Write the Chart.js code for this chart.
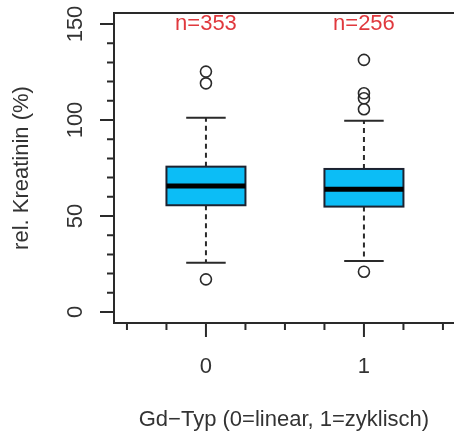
<!DOCTYPE html>
<html>
<head>
<meta charset="utf-8">
<script src="https://cdn.jsdelivr.net/npm/chart.js@4/dist/chart.umd.min.js"></script>
<style>
  html, body { margin: 0; padding: 0; background: #ffffff; }
  #wrap { width: 454px; height: 434px; position: relative; }
</style>
</head>
<body>
<div id="wrap"><canvas id="chart"></canvas></div>
<script>
  // Box statistics per group
  const groupLabels = ['0', '1'];
  const groupPos = [0, 1];
  const countLabels = ['n=353', 'n=256'];
  const whiskerLow = [25.7, 26.6];
  const q1 = [55.6, 54.9];
  const median = [65.6, 63.9];
  const q3 = [75.7, 74.5];
  const whiskerHigh = [101.2, 99.6];
  const outliers0 = [125.2, 119.1, 17.0];
  const outliers1 = [131.3, 113.9, 111.3, 105.6, 21.0];

  // Axis ticks
  const yMajorTicks = [0, 50, 100, 150];
  const yMinorTicks = [10, 20, 30, 40, 60, 70, 80, 90, 110, 120, 130, 140];
  const xMinorTicks = [-0.5, -0.25, 0.25, 0.5, 0.75, 1.25, 1.5];

  const yTitle = 'rel. Kreatinin (%)';
  const xTitle = 'Gd\u2212Typ (0=linear, 1=zyklisch)';

  const colors = {
    box: '#0cbdf6',
    boxLine: '#1c2230',
    line: '#2a2a2a',
    text: '#333333',
    count: '#e0393e'
  };
  const font = '22px "Liberation Sans", Arial, sans-serif';

  const boxHalf = 0.25;
  const capHalf = 0.125;

  const outlierPoints = []
    .concat(outliers0.map((v) => ({ x: groupPos[0], y: v })))
    .concat(outliers1.map((v) => ({ x: groupPos[1], y: v })));

  const boxplotPlugin = {
    id: 'boxplot',
    beforeDatasetsDraw(chart) {
      const { ctx, chartArea: area, scales: { x, y } } = chart;
      ctx.save();

      groupPos.forEach((g, i) => {
        const cx = x.getPixelForValue(g);
        const left = x.getPixelForValue(g - boxHalf);
        const right = x.getPixelForValue(g + boxHalf);
        const capL = x.getPixelForValue(g - capHalf);
        const capR = x.getPixelForValue(g + capHalf);
        const yq1 = y.getPixelForValue(q1[i]);
        const yq3 = y.getPixelForValue(q3[i]);
        const ymed = y.getPixelForValue(median[i]);
        const ylo = y.getPixelForValue(whiskerLow[i]);
        const yhi = y.getPixelForValue(whiskerHigh[i]);

        // dashed whiskers
        ctx.strokeStyle = colors.line;
        ctx.lineWidth = 2;
        ctx.setLineDash([5, 4]);
        ctx.beginPath();
        ctx.moveTo(cx, yq3);
        ctx.lineTo(cx, yhi);
        ctx.moveTo(cx, yq1);
        ctx.lineTo(cx, ylo);
        ctx.stroke();
        ctx.setLineDash([]);

        // caps
        ctx.beginPath();
        ctx.moveTo(capL, yhi);
        ctx.lineTo(capR, yhi);
        ctx.moveTo(capL, ylo);
        ctx.lineTo(capR, ylo);
        ctx.stroke();

        // box
        ctx.fillStyle = colors.box;
        ctx.fillRect(left, yq3, right - left, yq1 - yq3);
        ctx.strokeStyle = colors.boxLine;
        ctx.lineWidth = 2;
        ctx.strokeRect(left, yq3, right - left, yq1 - yq3);

        // median
        ctx.strokeStyle = '#000000';
        ctx.lineWidth = 5;
        ctx.beginPath();
        ctx.moveTo(left, ymed);
        ctx.lineTo(right, ymed);
        ctx.stroke();

        // count label
        ctx.fillStyle = colors.count;
        ctx.font = font;
        ctx.textAlign = 'center';
        ctx.textBaseline = 'alphabetic';
        ctx.fillText(countLabels[i], cx, area.top + 17);
      });

      // frame (right side runs off the picture)
      ctx.strokeStyle = colors.line;
      ctx.lineWidth = 2;
      ctx.beginPath();
      ctx.moveTo(chart.width + 2, area.top);
      ctx.lineTo(area.left, area.top);
      ctx.lineTo(area.left, area.bottom);
      ctx.lineTo(chart.width + 2, area.bottom);
      ctx.stroke();

      // y ticks
      ctx.lineWidth = 2;
      ctx.beginPath();
      yMajorTicks.forEach((v) => {
        const py = y.getPixelForValue(v);
        ctx.moveTo(area.left - 14, py);
        ctx.lineTo(area.left, py);
      });
      yMinorTicks.forEach((v) => {
        const py = y.getPixelForValue(v);
        ctx.moveTo(area.left - 7, py);
        ctx.lineTo(area.left, py);
      });
      // x ticks
      groupPos.forEach((g) => {
        const px = x.getPixelForValue(g);
        ctx.moveTo(px, area.bottom);
        ctx.lineTo(px, area.bottom + 14);
      });
      xMinorTicks.forEach((g) => {
        const px = x.getPixelForValue(g);
        ctx.moveTo(px, area.bottom);
        ctx.lineTo(px, area.bottom + 7);
      });
      ctx.stroke();

      // tick labels
      ctx.fillStyle = colors.text;
      ctx.font = font;
      ctx.textAlign = 'center';
      ctx.textBaseline = 'alphabetic';
      groupPos.forEach((g, i) => {
        ctx.fillText(groupLabels[i], x.getPixelForValue(g), area.bottom + 50);
      });
      yMajorTicks.forEach((v) => {
        ctx.save();
        ctx.translate(82, y.getPixelForValue(v));
        ctx.rotate(-Math.PI / 2);
        ctx.fillText(String(v), 0, 0);
        ctx.restore();
      });

      // axis titles
      ctx.fillText(xTitle, x.getPixelForValue(0.5) - 1, area.bottom + 103);
      ctx.save();
      ctx.translate(28, (area.top + area.bottom) / 2);
      ctx.rotate(-Math.PI / 2);
      ctx.fillText(yTitle, 0, 0);
      ctx.restore();

      ctx.restore();
    }
  };

  new Chart(document.getElementById('chart'), {
    type: 'scatter',
    data: {
      datasets: [{
        label: 'Ausreißer',
        data: outlierPoints,
        pointRadius: 5.5,
        pointHoverRadius: 5.5,
        pointBorderWidth: 1.6,
        borderColor: colors.line,
        backgroundColor: 'rgba(0,0,0,0)'
      }]
    },
    options: {
      responsive: true,
      maintainAspectRatio: false,
      animation: false,
      layout: { autoPadding: false, padding: { left: 114, top: 13, right: 0, bottom: 111 } },
      plugins: {
        legend: { display: false },
        tooltip: { enabled: false }
      },
      scales: {
        x: { type: 'linear', min: -0.582, max: 1.570, display: false },
        y: { type: 'linear', min: -5.73, max: 155.73, display: false }
      }
    },
    plugins: [boxplotPlugin]
  });
</script>
</body>
</html>
